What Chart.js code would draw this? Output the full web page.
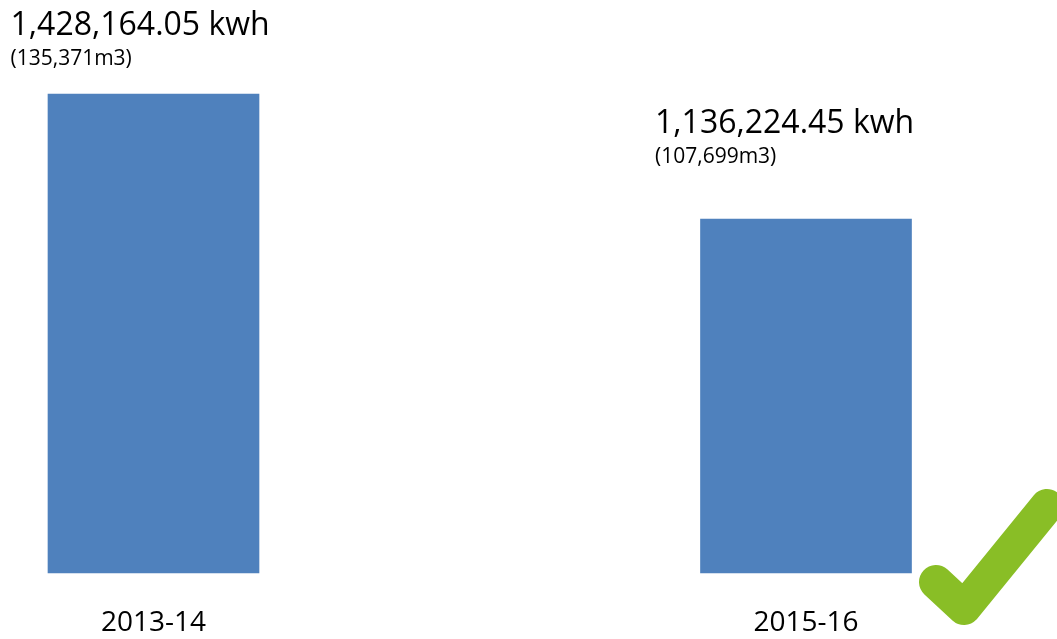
<!DOCTYPE html>
<html>
<head>
<meta charset="UTF-8">
<title>Energy use 2013-14 vs 2015-16</title>
<script src="https://cdn.jsdelivr.net/npm/chart.js"></script>
<style>
  body { margin: 0; background: #ffffff; }
  #chart { display: block; }
</style>
</head>
<body>
<canvas id="chart" width="1057" height="639"></canvas>
<script>
  // Chart data
  const years = ['2013-14', '2015-16'];
  const kwhValues = [1428164.05, 1136224.45];
  const mainLabels = ['1,428,164.05 kwh', '1,136,224.45 kwh'];
  const subLabels = ['(135,371m3)', '(107,699m3)'];

  // value axis range (bars in the picture do not start at zero)
  const yMin = 309500;
  const yMax = 1428164.05;

  const FONT = '"Open Sans", Lato, sans-serif';

  // Draws the kwh / m3 text above each bar
  const valueLabels = {
    id: 'valueLabels',
    afterDatasetsDraw(chart, args, opts) {
      const ctx = chart.ctx;
      const meta = chart.getDatasetMeta(0);
      ctx.save();
      ctx.fillStyle = '#000000';
      ctx.textAlign = 'left';
      ctx.textBaseline = 'alphabetic';
      meta.data.forEach((bar, i) => {
        const off = opts.offsets[i];
        const x = bar.x + off.dx;
        const y = bar.y + off.dy;
        ctx.font = '32px ' + FONT;
        ctx.fillText(mainLabels[i], x, y);
        ctx.font = '21px ' + FONT;
        ctx.fillText(subLabels[i], x, y + 30);
      });
      ctx.restore();
    }
  };

  // Green tick in the bottom right corner
  const checkMark = {
    id: 'checkMark',
    afterDraw(chart) {
      const ctx = chart.ctx;
      ctx.save();
      ctx.strokeStyle = '#89be26';
      ctx.lineWidth = 34;
      ctx.lineCap = 'round';
      ctx.lineJoin = 'round';
      ctx.beginPath();
      ctx.moveTo(936, 582);
      ctx.lineTo(964, 608);
      ctx.lineTo(1047, 506);
      ctx.stroke();
      ctx.restore();
    }
  };

  new Chart(document.getElementById('chart'), {
    type: 'bar',
    data: {
      labels: years,
      datasets: [{
        data: kwhValues,
        base: yMin,
        backgroundColor: '#4f81bd',
        borderWidth: 0,
        barThickness: 211,
        clip: false
      }]
    },
    options: {
      responsive: false,
      animation: false,
      layout: { padding: { left: 153.5, right: 251, top: 94, bottom: 0 } },
      plugins: {
        legend: { display: false },
        tooltip: { enabled: false },
        valueLabels: { offsets: [{ dx: -143, dy: -59 }, { dx: -151, dy: -86 }] }
      },
      scales: {
        x: {
          offset: false,
          grid: { display: false, drawTicks: false },
          border: { display: false },
          afterFit(scale) { scale.height = 66; },
          ticks: {
            color: '#000000',
            padding: 33,
            font: { family: FONT, size: 28 }
          }
        },
        y: {
          display: false,
          min: yMin,
          max: yMax
        }
      }
    },
    plugins: [valueLabels, checkMark]
  });
</script>
</body>
</html>
